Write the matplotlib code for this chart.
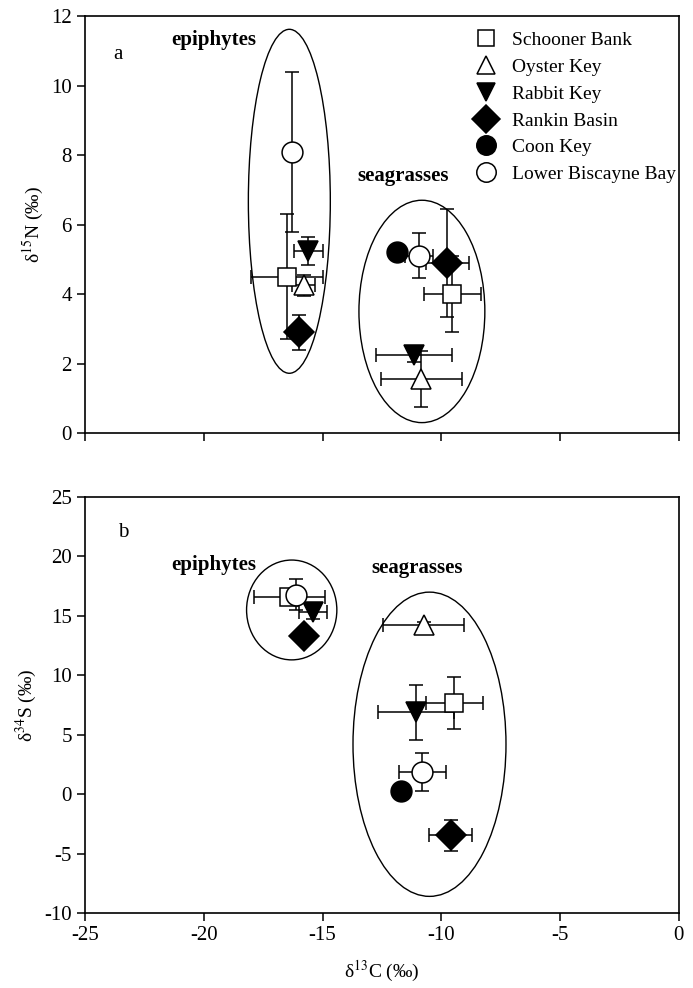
import numpy as np
import matplotlib
matplotlib.use('Agg')
import matplotlib.pyplot as plt
from matplotlib.patches import Ellipse

plt.rcParams['font.family'] = ['Liberation Serif', 'DejaVu Serif']
plt.rcParams['mathtext.fontset'] = 'stix'
plt.rcParams['axes.unicode_minus'] = False

# sites and their markers
sites = ['Schooner Bank', 'Oyster Key', 'Rabbit Key', 'Rankin Basin',
         'Coon Key', 'Lower Biscayne Bay']
markers = ['s', '^', 'v', 'D', 'o', 'o']
faces = ['white', 'white', 'black', 'black', 'black', 'white']
msizes = [13, 14, 14, 15, 15, 15]

nan = np.nan

# panel a: d13C vs d15N
a_epi_c = [-16.5, -15.8, -15.6, -16.0, nan, -16.3]
a_epi_c_err = [1.5, 0.5, 0.6, 0.2, 0, 0.2]
a_epi_n = [4.5, 4.25, 5.25, 2.9, nan, 8.1]
a_epi_n_err = [1.8, 0.3, 0.4, 0.5, 0, 2.3]

a_sea_c = [-9.55, -10.85, -11.15, -9.75, -11.85, -10.95]
a_sea_c_err = [1.2, 1.7, 1.6, 0.9, 0, 0.6]
a_sea_n = [4.0, 1.55, 2.25, 4.9, 5.2, 5.1]
a_sea_n_err = [1.1, 0.8, 0.2, 1.55, 0, 0.65]

# panel b: d13C vs d34S
b_epi_c = [-16.4, nan, -15.4, -15.8, nan, -16.1]
b_epi_c_err = [1.5, 0, 0.6, 0, 0, 0.3]
b_epi_s = [16.6, nan, 15.3, 13.3, nan, 16.8]
b_epi_s_err = [0.6, 0, 0.6, 0, 0, 1.3]

b_sea_c = [-9.45, -10.75, -11.05, -9.6, -11.7, -10.8]
b_sea_c_err = [1.2, 1.7, 1.6, 0.9, 0, 1.0]
b_sea_s = [7.7, 14.2, 6.9, -3.45, 0.25, 1.9]
b_sea_s_err = [2.2, 0.3, 2.3, 1.3, 0, 1.6]


def draw_group(ax, xs, xerr, ys, yerr):
    for i in range(len(sites)):
        if np.isnan(xs[i]):
            continue
        ax.errorbar(xs[i], ys[i], xerr=xerr[i] or None, yerr=yerr[i] or None,
                    fmt='none', ecolor='black', elinewidth=1.1, capsize=5,
                    capthick=1.1, zorder=2)
    for i in range(len(sites)):
        if np.isnan(xs[i]):
            continue
        ax.plot(xs[i], ys[i], marker=markers[i], ms=msizes[i],
                mfc=faces[i], mec='black', mew=1.1, ls='none', zorder=3)


def style_axes(ax):
    ax.set_xlim(-25, 0)
    ax.set_xticks(range(-25, 1, 5))
    for sp in ax.spines.values():
        sp.set_linewidth(1.2)
    ax.tick_params(direction='out', length=6, width=1.1, labelsize=15,
                   top=False, right=False)


fig = plt.figure(figsize=(6.93, 9.88), dpi=100)
ax1 = fig.add_axes([0.1227, 0.5617, 0.857, 0.422])
ax2 = fig.add_axes([0.1227, 0.0759, 0.857, 0.421])

# ---- panel a
draw_group(ax1, a_epi_c, a_epi_c_err, a_epi_n, a_epi_n_err)
draw_group(ax1, a_sea_c, a_sea_c_err, a_sea_n, a_sea_n_err)
ax1.add_patch(Ellipse((-16.4, 6.67), 3.45, 9.9, fill=False, lw=1.0, ec='black'))
ax1.add_patch(Ellipse((-10.82, 3.5), 5.3, 6.4, fill=False, lw=1.0, ec='black'))
ax1.set_ylim(0, 12)
ax1.set_yticks(range(0, 13, 2))
style_axes(ax1)
ax1.set_xticklabels([])
ax1.set_ylabel('δ$^{15}$N (‰)', fontsize=14)
ax1.text(-23.8, 10.9, 'a', fontsize=15, ha='left', va='center')
ax1.text(-19.6, 11.3, 'epiphytes', fontsize=15, fontweight='bold',
         ha='center', va='center')
ax1.text(-11.6, 7.4, 'seagrasses', fontsize=15, fontweight='bold',
         ha='center', va='center')

handles = [plt.Line2D([], [], marker=markers[i], ms=msizes[i] - 1, mfc=faces[i],
                      mec='black', mew=1.1, ls='none') for i in range(len(sites))]
ax1.legend(handles, sites, loc='upper left', bbox_to_anchor=(0.63, 1.0),
           frameon=False, fontsize=14, handlelength=1.2, handletextpad=0.7,
           labelspacing=0.47, borderaxespad=0.4)

# ---- panel b
draw_group(ax2, b_epi_c, b_epi_c_err, b_epi_s, b_epi_s_err)
draw_group(ax2, b_sea_c, b_sea_c_err, b_sea_s, b_sea_s_err)
ax2.add_patch(Ellipse((-16.3, 15.5), 3.8, 8.4, fill=False, lw=1.0, ec='black'))
ax2.add_patch(Ellipse((-10.5, 4.2), 6.44, 25.6, fill=False, lw=1.0, ec='black'))
ax2.set_ylim(-10, 25)
ax2.set_yticks(range(-10, 26, 5))
style_axes(ax2)
ax2.set_ylabel('δ$^{34}$S (‰)', fontsize=14)
ax2.set_xlabel('δ$^{13}$C (‰)', fontsize=14, labelpad=10)
ax2.text(-23.6, 22.0, 'b', fontsize=15, ha='left', va='center')
ax2.text(-19.6, 19.3, 'epiphytes', fontsize=15, fontweight='bold',
         ha='center', va='center')
ax2.text(-11.0, 19.0, 'seagrasses', fontsize=15, fontweight='bold',
         ha='center', va='center')

fig.savefig('out.png', dpi=100)
